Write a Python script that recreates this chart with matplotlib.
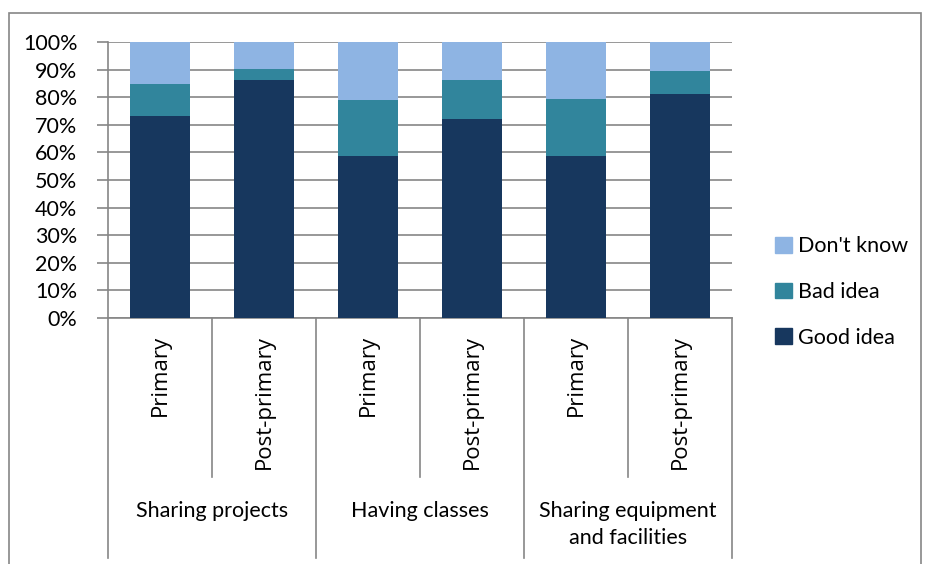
import matplotlib
matplotlib.use('Agg')
import matplotlib.pyplot as plt
import matplotlib.transforms as mtransforms
from matplotlib.patches import Rectangle, Patch
import numpy as np

plt.rcParams['font.family'] = ['Lato', 'DejaVu Sans']

groups = ['Sharing projects', 'Having classes', 'Sharing equipment\nand facilities']
levels = ['Primary', 'Post-primary']
good_idea = [73.3, 86.3, 58.8, 72.2, 58.8, 81.3]
bad_idea = [11.4, 3.8, 20.2, 14.1, 20.4, 8.3]
dont_know = [15.3, 9.9, 21.0, 13.7, 20.8, 10.4]

c_good = '#17375E'
c_bad = '#31859C'
c_dk = '#8EB4E3'
grey = '#868686'

W, H = 928, 564
fig = plt.figure(figsize=(W / 100, H / 100), dpi=100)

# outer chart border
fig.patches.append(Rectangle((9 / W, -0.1), 912 / W, 1.1 - 13 / H, transform=fig.transFigure,
                             fill=False, edgecolor=grey, lw=1.2))

ax = fig.add_axes([108 / W, (H - 318) / H, 624 / W, 276 / H])

x = np.arange(len(good_idea))
good = np.array(good_idea)
bad = np.array(bad_idea)
dk = np.array(dont_know)
bw = 0.57
ax.bar(x, good, bw, color=c_good, zorder=3)
ax.bar(x, bad, bw, bottom=good, color=c_bad, zorder=3)
ax.bar(x, dk, bw, bottom=good + bad, color=c_dk, zorder=3)

ax.set_xlim(-0.5, len(x) - 0.5)
ax.set_ylim(0, 100)
ax.set_yticks(np.arange(0, 101, 10))
ax.set_yticklabels([f'{v}%' for v in range(0, 101, 10)], fontsize=15.5)
ax.yaxis.grid(True, color=grey, lw=1.2, zorder=0)
ax.tick_params(axis='y', length=8, width=1.2, color=grey, pad=14)
ax.set_xticks([])
for s in ['top', 'right']:
    ax.spines[s].set_visible(False)
for s in ['left', 'bottom']:
    ax.spines[s].set_color(grey)
    ax.spines[s].set_linewidth(1.2)

# hierarchical category axis
tr = mtransforms.blended_transform_factory(ax.transData, ax.transAxes)
inner_end = -159 / 276
outer_end = -240 / 276
for i in range(len(x) + 1):
    b = i - 0.5
    y_end = outer_end if i % 2 == 0 else inner_end
    ax.plot([b, b], [0, y_end], color=grey, lw=1.2, transform=tr, clip_on=False)
for i in x:
    ax.text(i, -17 / 276, levels[i % 2], rotation=90, ha='center', va='top',
            fontsize=16, transform=tr, family=['Open Sans', 'DejaVu Sans'])
for g, name in enumerate(groups):
    ax.text(2 * g + 0.5, -183 / 276, name, ha='center', va='top', fontsize=15.5,
            linespacing=1.45, transform=tr)

handles = [Patch(color=c_dk, label="Don't know"),
           Patch(color=c_bad, label='Bad idea'),
           Patch(color=c_good, label='Good idea')]
fig.legend(handles=handles, loc='center left', bbox_to_anchor=(756 / W, (H - 292) / H),
           frameon=False, fontsize=15.5, handlelength=0.75, handleheight=0.75,
           handletextpad=0.3, labelspacing=1.2)

fig.savefig('out.png', dpi=100)
